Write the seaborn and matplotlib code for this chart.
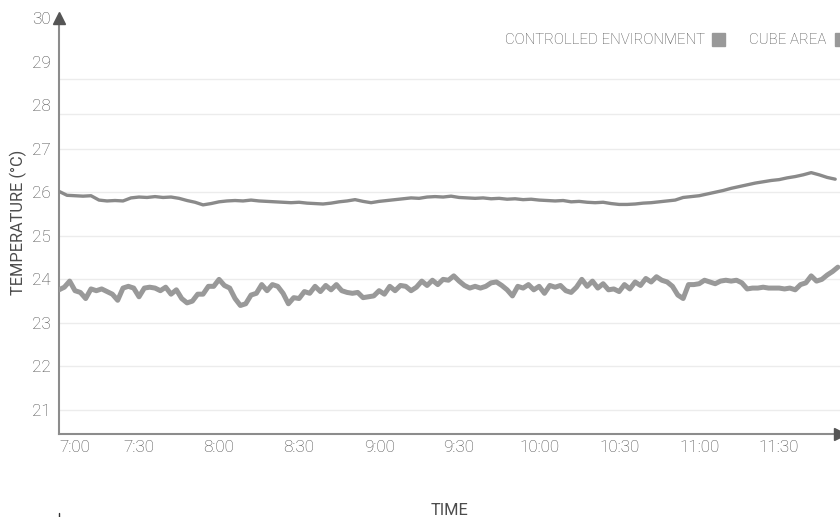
import matplotlib
matplotlib.use("Agg")
import matplotlib.pyplot as plt
import seaborn as sns
import numpy as np
import pandas as pd
from matplotlib.lines import Line2D
from matplotlib.patches import Rectangle

# ---------------- data ----------------
# minutes after 7:00
upper_minutes = list(range(0, 292, 3))
controlled_env = [
    26.02, 25.93, 25.92, 25.91, 25.92, 25.82, 25.80, 25.81, 25.80, 25.87,
    25.89, 25.88, 25.90, 25.88, 25.89, 25.86, 25.81, 25.77, 25.71, 25.74,
    25.78, 25.80, 25.81, 25.80, 25.82, 25.80, 25.79, 25.78, 25.77, 25.76,
    25.77, 25.75, 25.74, 25.73, 25.75, 25.78, 25.80, 25.83, 25.79, 25.76,
    25.79, 25.81, 25.83, 25.85, 25.87, 25.86, 25.89, 25.90, 25.89, 25.91,
    25.88, 25.87, 25.86, 25.87, 25.85, 25.86, 25.84, 25.85, 25.83, 25.84,
    25.82, 25.81, 25.80, 25.81, 25.78, 25.79, 25.77, 25.76, 25.77, 25.74,
    25.72, 25.72, 25.73, 25.75, 25.76, 25.78, 25.80, 25.82, 25.88, 25.90,
    25.92, 25.96, 26.00, 26.04, 26.09, 26.13, 26.17, 26.21, 26.24, 26.27,
    26.29, 26.33, 26.36, 26.40, 26.45, 26.40, 26.34, 26.30,
]

lower_minutes = list(range(0, 293, 2))
cube_area = [
    23.76, 23.82, 23.96, 23.74, 23.70, 23.56, 23.78, 23.74, 23.78, 23.72,
    23.66, 23.52, 23.80, 23.84, 23.80, 23.60, 23.80, 23.82, 23.80, 23.74,
    23.82, 23.66, 23.76, 23.56, 23.46, 23.50, 23.66, 23.66, 23.84, 23.84,
    24.00, 23.86, 23.80, 23.56, 23.40, 23.44, 23.64, 23.68, 23.88, 23.74,
    23.88, 23.84, 23.68, 23.44, 23.58, 23.56, 23.72, 23.68, 23.84, 23.72,
    23.86, 23.76, 23.88, 23.74, 23.70, 23.68, 23.70, 23.58, 23.60, 23.62,
    23.74, 23.66, 23.84, 23.74, 23.86, 23.84, 23.74, 23.82, 23.96, 23.86,
    23.98, 23.88, 24.00, 23.98, 24.08, 23.96, 23.86, 23.80, 23.84, 23.80,
    23.84, 23.92, 23.94, 23.86, 23.76, 23.62, 23.84, 23.80, 23.88, 23.76,
    23.84, 23.68, 23.86, 23.82, 23.86, 23.74, 23.70, 23.82, 24.00, 23.84,
    23.96, 23.80, 23.90, 23.76, 23.78, 23.72, 23.88, 23.78, 23.94, 23.86,
    24.02, 23.94, 24.06, 23.98, 23.94, 23.84, 23.64, 23.56, 23.88, 23.88,
    23.90, 23.98, 23.94, 23.90, 23.96, 23.98, 23.96, 23.98, 23.92, 23.78,
    23.80, 23.80, 23.82, 23.80, 23.80, 23.80, 23.78, 23.80, 23.76, 23.88,
    23.92, 24.08, 23.96, 24.00, 24.10, 24.18, 24.28,
]

series_names = ["CONTROLLED ENVIRONMENT", "CUBE AREA"]
y_ticks = [21, 22, 23, 24, 25, 26, 27, 28, 29, 30]
grid_levels = [21, 22, 23, 24, 25, 26, 27, 27.8, 28.6]
x_tick_minutes = [0, 30, 60, 90, 120, 150, 180, 210, 240, 270]
x_tick_labels = ["7:00", "7:30", "8:00", "8:30", "9:00", "9:30",
                 "10:00", "10:30", "11:00", "11:30"]

# ---------------- style ----------------
sns.set_style("white")
plt.rcParams["font.family"] = ["Roboto", "DejaVu Sans"]
plt.rcParams["font.weight"] = "light"
TXT = "#4c4c4c"

fig = plt.figure(figsize=(8.4, 5.17), dpi=100)
ax = fig.add_axes([59 / 840, 83 / 517, 1 - 59 / 840, (434 - 18) / 517])

df_up = pd.DataFrame({"minute": upper_minutes, "temp": controlled_env})
df_lo = pd.DataFrame({"minute": lower_minutes, "temp": cube_area})

for g in grid_levels:
    ax.axhline(g, color="#ececec", lw=1.0, zorder=0)

sns.lineplot(data=df_lo, x="minute", y="temp", ax=ax, color="#999999",
             lw=3.6, solid_joinstyle="round", zorder=3)
sns.lineplot(data=df_up, x="minute", y="temp", ax=ax, color="#8a8a8a",
             lw=2.4, solid_joinstyle="round", zorder=3)

ax.set_xlim(0, 292.8)
ax.set_ylim(20.45, 30)

ax.set_yticks(y_ticks)
ax.set_yticklabels([str(t) for t in y_ticks])
ax.set_xticks(x_tick_minutes)
ax.set_xticklabels(x_tick_labels)
ax.tick_params(axis="both", length=0, labelsize=12.3, labelcolor=TXT)
ax.tick_params(axis="y", pad=6)
ax.tick_params(axis="x", pad=4)
lbl0 = ax.get_xticklabels()[0]
lbl0.set_horizontalalignment("left")
lbl0.set_x(-1.5)

for s in ["top", "right"]:
    ax.spines[s].set_visible(False)
for s in ["left", "bottom"]:
    ax.spines[s].set_color("#8c8c8c")
    ax.spines[s].set_linewidth(1.5)

# arrow heads
ax.plot(1, 0, marker=">", ms=8, color="#555555", transform=ax.transAxes,
        clip_on=False, zorder=5)
ax.plot(0, 1, marker="^", ms=8, color="#555555", transform=ax.transAxes,
        clip_on=False, zorder=5)

ax.set_xlabel("TIME", fontsize=11.8, color=TXT, labelpad=0)
ax.xaxis.set_label_coords(0.5, -(503 - 434) / 416)
ax.set_ylabel("TEMPERATURE (°C)", fontsize=11.8, color=TXT)
ax.yaxis.set_label_coords(-(59 - 27) / 781, (434 - 222) / 416)

# legend (manual)
fig.text(705 / 840, 1 - 40 / 517, series_names[0], ha="right", va="center",
         fontsize=10.8, color=TXT)
fig.patches.append(Rectangle((712 / 840, 1 - 46 / 517), 13 / 840, 13 / 517,
                             transform=fig.transFigure, color="#999999"))
fig.text(749 / 840, 1 - 40 / 517, series_names[1], ha="left", va="center",
         fontsize=10.8, color=TXT)
fig.patches.append(Rectangle((835 / 840, 1 - 46 / 517), 13 / 840, 13 / 517,
                             transform=fig.transFigure, color="#999999"))

# small mark at bottom left
fig.lines.append(Line2D([59 / 840, 59 / 840], [0, 4 / 517],
                        transform=fig.transFigure, color="#333333", lw=1))

fig.savefig("out.png", dpi=100)
